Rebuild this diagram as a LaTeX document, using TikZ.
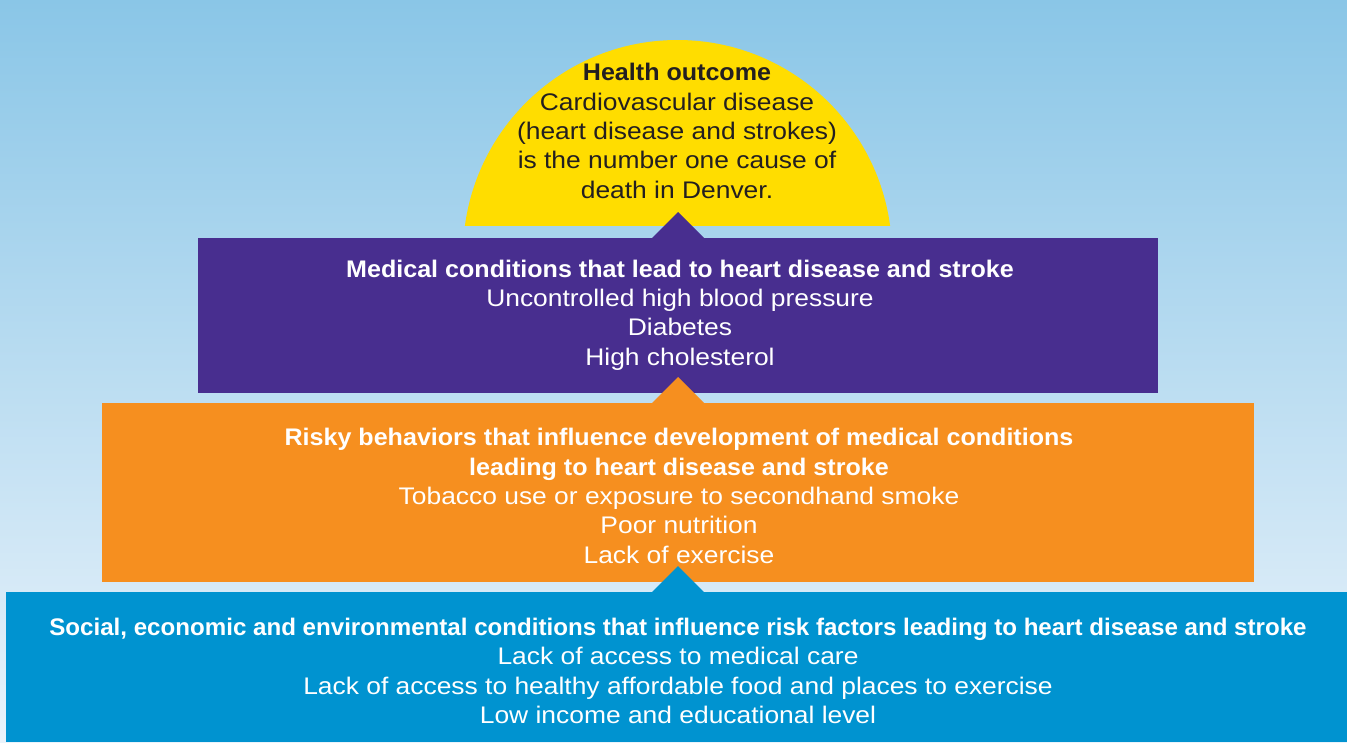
\documentclass[tikz,border=0pt]{standalone}
\usepackage{fontspec}
\setmainfont{Liberation Sans}[FakeStretch=1.10]
\newfontfamily\hdrfont{Liberation Sans Bold}[FakeStretch=1.045]
\newfontfamily\hdrnarrow{Liberation Sans Bold}[FakeStretch=1.005]
\newcommand{\hdr}[1]{{\hdrfont #1}}
\newcommand{\hdrn}[1]{{\hdrnarrow #1}}
\definecolor{bgtop}{RGB}{138,198,231}
\definecolor{bgbot}{RGB}{234,243,251}
\definecolor{sunyellow}{RGB}{255,221,0}
\definecolor{medpurple}{RGB}{72,46,143}
\definecolor{riskorange}{RGB}{246,143,31}
\definecolor{socblue}{RGB}{0,147,208}
\definecolor{darktext}{RGB}{35,31,32}
\tikzset{
  txt/.style={align=center, font=\fontsize{24}{29.4}\selectfont, inner sep=0pt},
}
\begin{document}
\begin{tikzpicture}[x=1pt,y=-1pt]
\useasboundingbox (0,0) rectangle (1347,742);
\shade[top color=bgtop, bottom color=bgbot] (0,0) rectangle (1347,742);
% yellow segment
\begin{scope}
\clip (0,0) rectangle (1347,225);
\fill[sunyellow] (677.5,254.5) circle (214.5pt);
\end{scope}
% rectangles
\fill[medpurple] (198,238) rectangle (1158,393);
\fill[riskorange] (102,403) rectangle (1254,582);
\fill[socblue] (6,592) rectangle (1347,742);
% pointers
\fill[medpurple] (652,238) -- (678,212) -- (704,238) -- cycle;
\fill[riskorange] (652,403) -- (678,377) -- (704,403) -- cycle;
\fill[socblue] (652,592) -- (678,566) -- (704,592) -- cycle;
% texts
\node[txt, text=darktext] (health) at (677,131) {\hdr{Health outcome}\\Cardiovascular disease\\(heart disease and strokes)\\is the number one cause of\\death in Denver.};
\node[txt, text=white] (medical) at (680,315) {\hdr{Medical conditions that lead to heart disease and stroke}\\Uncontrolled high blood pressure\\Diabetes\\High cholesterol};
\node[txt, text=white] (risky) at (679,496) {\hdr{Risky behaviors that influence development of medical conditions}\\\hdr{leading to heart disease and stroke}\\Tobacco use or exposure to secondhand smoke\\Poor nutrition\\Lack of exercise};
\node[txt, text=white] (social) at (678,671) {\hdrn{Social, economic and environmental conditions that influence risk factors leading to heart disease and stroke}\\Lack of access to medical care\\Lack of access to healthy affordable food and places to exercise\\Low income and educational level};
\end{tikzpicture}
\end{document}
